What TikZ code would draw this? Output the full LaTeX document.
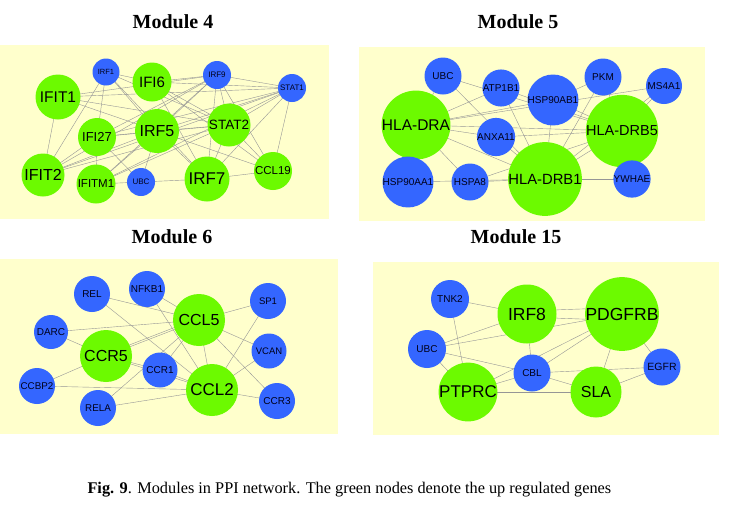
\documentclass[tikz,border=0pt]{standalone}
\usepackage{fontspec}
\setmainfont{Liberation Serif}
\newfontfamily\arialf{Liberation Sans}
\definecolor{panelbg}{RGB}{255,255,204}
\definecolor{gnode}{RGB}{108,250,0}
\definecolor{bnode}{RGB}{52,102,255}
\definecolor{edgec}{RGB}{150,150,150}
\pgfdeclarelayer{edgelayer}
\pgfdeclarelayer{panellayer}
\pgfsetlayers{panellayer,edgelayer,main}
\tikzset{
  gn/.style={circle, fill=gnode, inner sep=0pt, minimum size=#1, text=black},
  bn/.style={circle, fill=bnode, inner sep=0pt, minimum size=#1, text=black!90!blue},
  fs/.style={font=\arialf\fontsize{#1}{#1}\selectfont},
  edge/.style={draw=edgec, line width=0.4pt},
  ttl/.style={font=\fontsize{20}{22}\selectfont\bfseries},
  panel/.style={fill=panelbg},
}
\begin{document}
\begin{tikzpicture}[x=1pt,y=-1pt]
\useasboundingbox (0,0) rectangle (734,515);
\begin{pgfonlayer}{panellayer}
\fill[white] (0,0) rectangle (734,515);
\fill[panel] (0,45) rectangle (329,219);
\fill[panel] (359,47) rectangle (705,221);
\fill[panel] (0,259) rectangle (338,434);
\fill[panel] (373,262) rectangle (719,435);
\end{pgfonlayer}

% titles
\node[ttl] (t4) at (173,22) {Module 4};
\node[ttl] (t5) at (518,22) {Module 5};
\node[ttl] (t6) at (172,237) {Module 6};
\node[ttl] (t15) at (516,237) {Module 15};
\node[font=\fontsize{16.3}{18}\selectfont, anchor=west] (cap) at (84,490) {\textbf{Fig. 9}. Modules in PPI network. The green nodes denote the up regulated genes};

% Module 4
\node[bn=27, fs=7.5] (aIRF1) at (106,72) {IRF1};
\node[gn=39, fs=15] (aIFI6) at (152,82) {IFI6};
\node[bn=28, fs=8] (aIRF9) at (217,75) {IRF9};
\node[bn=28, fs=8] (aSTAT1) at (292,88) {STAT1};
\node[gn=45, fs=15.5] (aIFIT1) at (58,97) {IFIT1};
\node[gn=44, fs=16] (aIRF5) at (157,131) {IRF5};
\node[gn=43, fs=13.5] (aSTAT2) at (229,125) {STAT2};
\node[gn=38, fs=13] (aIFI27) at (97,137) {IFI27};
\node[gn=43, fs=16] (aIFIT2) at (43,175) {IFIT2};
\node[gn=39, fs=11.5] (aIFITM1) at (96,184) {IFITM1};
\node[bn=28, fs=8] (aUBC) at (141,182) {UBC};
\node[gn=45, fs=17] (aIRF7) at (207,179) {IRF7};
\node[gn=38, fs=11.5] (aCCL19) at (273,171) {CCL19};

% Module 5
\node[bn=37, fs=10] (bUBC) at (443,76) {UBC};
\node[bn=37, fs=10] (bATP1B1) at (501,88) {ATP1B1};
\node[bn=37, fs=10] (bPKM) at (603,77) {PKM};
\node[bn=36, fs=10] (bMS4A1) at (664,86) {MS4A1};
\node[bn=37, fs=10] (bHSP90AB1) at (553,100) {HSP90AB1};
\node[gn=53, fs=15.5] (bHLADRA) at (416,125) {HLA-DRA};
\node[bn=37, fs=10] (bANXA11) at (496,137) {ANXA11};
\node[gn=49, fs=14.5] (bHLADRB5) at (622,131) {HLA-DRB5};
\node[bn=37, fs=10] (bHSP90AA1) at (408,182) {HSP90AA1};
\node[bn=37, fs=10] (bHSPA8) at (470,182) {HSPA8};
\node[gn=52, fs=14.8] (bHLADRB1) at (545,179) {HLA-DRB1};
\node[bn=37, fs=10] (bYWHAE) at (632,179) {YWHAE};

% Module 6
\node[bn=36, fs=10] (cREL) at (92,294) {REL};
\node[bn=36, fs=10] (cNFKB1) at (147,289) {NFKB1};
\node[bn=36, fs=9.5] (cSP1) at (268,301) {SP1};
\node[bn=34, fs=10] (cDARC) at (51,332) {DARC};
\node[gn=52, fs=16] (cCCL5) at (199,320) {CCL5};
\node[gn=52, fs=16] (cCCR5) at (106,356) {CCR5};
\node[bn=35, fs=9.5] (cVCAN) at (269,351) {VCAN};
\node[bn=35, fs=10] (cCCR1) at (160,370) {CCR1};
\node[bn=36, fs=9.8] (cCCBP2) at (37,386) {CCBP2};
\node[gn=52, fs=17] (cCCL2) at (212,390) {CCL2};
\node[bn=36, fs=9.8] (cRELA) at (98,408) {RELA};
\node[bn=36, fs=10] (cCCR3) at (277,401) {CCR3};

% Module 15
\node[bn=38, fs=10] (dTNK2) at (450,299) {TNK2};
\node[gn=59, fs=17.5] (dIRF8) at (527,314) {IRF8};
\node[gn=58, fs=17.5] (dPDGFRB) at (622,314) {PDGFRB};
\node[bn=38, fs=10] (dUBC) at (427,349) {UBC};
\node[bn=37, fs=10.5] (dEGFR) at (662,367) {EGFR};
\node[bn=37, fs=10] (dCBL) at (532,373) {CBL};
\node[gn=56, fs=17] (dPTPRC) at (468,392) {PTPRC};
\node[gn=51, fs=16] (dSLA) at (596,392) {SLA};

\begin{pgfonlayer}{edgelayer}
\foreach \a/\b in {aIRF1/aIFI6, aIRF1/aIFI27, aIRF1/aIFIT2, aIRF1/aIRF5, aIRF1/aSTAT2, aIRF1/aIRF7,
  aIFI6/aIRF9, aIFI6/aSTAT1, aIFI6/aSTAT2, aIFI6/aIRF7, aIFI6/aCCL19,
  aIRF9/aIFIT1, aIRF9/aSTAT1, aIRF9/aIRF5, aIRF9/aIFI27, aIRF9/aIFITM1, aIRF9/aIFIT2, aIRF9/aSTAT2, aIRF9/aIRF7, aIRF9/aCCL19,
  aSTAT1/aIFIT1, aSTAT1/aIFI27, aSTAT1/aIRF5, aSTAT1/aSTAT2, aSTAT1/aIFIT2, aSTAT1/aIFITM1, aSTAT1/aIRF7, aSTAT1/aCCL19,
  aIFIT1/aIFIT2, aIFIT1/aSTAT2, aIFIT1/aIRF5,
  aIRF5/aIFI27, aIRF5/aSTAT2, aIRF5/aIFIT2, aIRF5/aIFITM1, aIRF5/aIRF7, aIRF5/aCCL19, aIRF5/aUBC,
  aSTAT2/aIFI27, aSTAT2/aIFIT2, aSTAT2/aIFITM1, aSTAT2/aIRF7, aSTAT2/aCCL19,
  aIFI27/aIFIT2, aIFI27/aIFITM1, aIFI27/aUBC, aUBC/aIFITM1, aUBC/aIRF7, aIRF7/aCCL19,
  bUBC/bHLADRA, bUBC/bHLADRB5, bUBC/bHLADRB1, bATP1B1/bHLADRA, bATP1B1/bHLADRB1, bATP1B1/bHLADRB5,
  bHSP90AB1/bHLADRA, bHSP90AB1/bHLADRB5, bHSP90AB1/bHLADRB1, bHSP90AB1/bPKM, bPKM/bHLADRB5, bPKM/bHLADRB1,
  bMS4A1/bHLADRA, bMS4A1/bHLADRB5, bMS4A1/bHLADRB1, bHLADRA/bANXA11, bHLADRA/bHLADRB5, bHLADRA/bHLADRB1,
  bHLADRA/bHSP90AA1, bHLADRA/bHSPA8, bANXA11/bHLADRB1, bANXA11/bHLADRB5, bHLADRB5/bHLADRB1, bHLADRB5/bHSPA8,
  bHLADRB5/bYWHAE, bHSP90AA1/bHLADRB1, bHSPA8/bHLADRB1, bHLADRB1/bYWHAE,
  cREL/cCCL5, cREL/cCCL2, cNFKB1/cCCL5, cNFKB1/cCCL2, cSP1/cCCL5, cSP1/cCCL2, cDARC/cCCL5, cDARC/cCCR5,
  cCCL5/cCCR5, cCCL5/cCCR1, cCCL5/cCCL2, cCCL5/cVCAN, cCCL5/cCCR3, cCCL5/cRELA, cCCR5/cCCR1, cCCR5/cCCL2,
  cCCR5/cCCBP2, cCCR1/cCCL2, cCCBP2/cCCL2, cRELA/cCCL2, cVCAN/cCCL2, cCCR3/cCCL2,
  dTNK2/dIRF8, dTNK2/dPTPRC, dIRF8/dUBC, dIRF8/dCBL, dPDGFRB/dUBC, dPDGFRB/dCBL,
  dPDGFRB/dPTPRC, dPDGFRB/dSLA, dPDGFRB/dEGFR, dUBC/dCBL, dUBC/dPTPRC, dCBL/dPTPRC, dCBL/dSLA, dPTPRC/dSLA,
  dEGFR/dSLA, dEGFR/dCBL}
  \draw[edge] (\a.center) -- (\b.center);
\draw[edge] (dIRF8.8) -- (dPDGFRB.172);
\draw[edge] (dIRF8.-8) -- (dPDGFRB.188);
\draw[edge] ([yshift=2pt]cCCL5.center) -- ([yshift=2pt]cCCR5.center);
\end{pgfonlayer}
\end{tikzpicture}
\end{document}
